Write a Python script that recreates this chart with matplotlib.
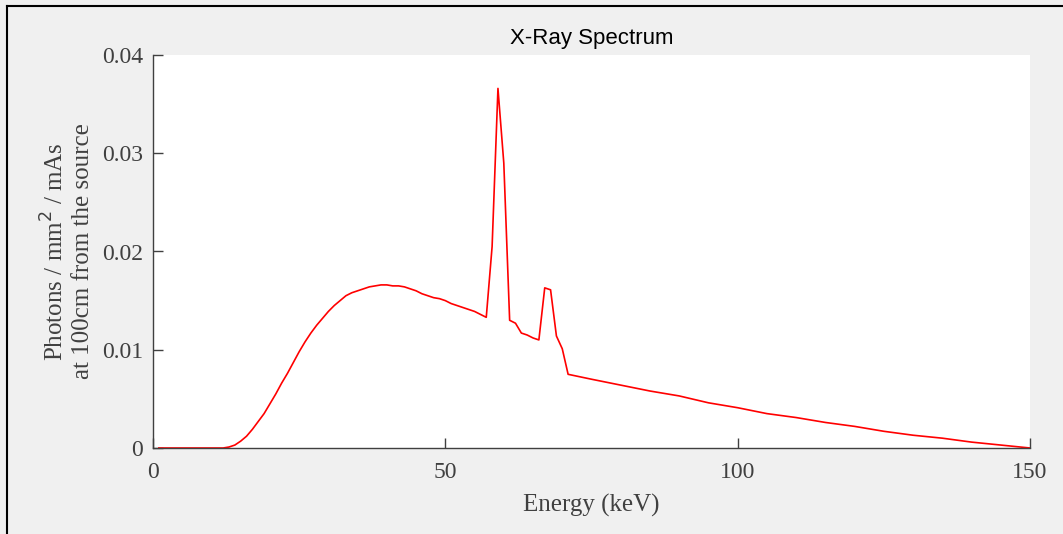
import matplotlib
matplotlib.use("Agg")
import matplotlib.pyplot as plt
from matplotlib.lines import Line2D

# spectrum (keV, photons / mm^2 / mAs)
energy_low = [1, 12]
flux_low = [0.0, 0.0]

energy_mid = list(range(13, 72))
flux_mid = [0.0001, 0.0003, 0.0007, 0.0012, 0.0019, 0.0027, 0.0035, 0.0045,
            0.0055, 0.0066, 0.0076, 0.0087, 0.0098, 0.0108, 0.0117, 0.0125,
            0.0132, 0.0139, 0.0145, 0.0150, 0.0155, 0.0158, 0.0160, 0.0162,
            0.0164, 0.0165, 0.0166, 0.0166, 0.0165, 0.0165, 0.0164, 0.0162,
            0.0160, 0.0157, 0.0155, 0.0153, 0.0152, 0.0150, 0.0147, 0.0145,
            0.0143, 0.0141, 0.0139, 0.0136, 0.0133, 0.0205, 0.0366, 0.0290,
            0.0130, 0.0127, 0.0117, 0.0115, 0.0112, 0.0110, 0.0163, 0.0161,
            0.0114, 0.0101, 0.0075]

energy_tail = [75, 80, 85, 90, 95, 100, 105, 110, 115, 120, 125, 130, 135,
               140, 145, 150]
flux_tail = [0.0070, 0.0064, 0.0058, 0.0053, 0.0046, 0.0041, 0.0035, 0.0031,
             0.0026, 0.0022, 0.0017, 0.0013, 0.0010, 0.0006, 0.0003, 0.0]

energy = energy_low + energy_mid + energy_tail
flux = flux_low + flux_mid + flux_tail

xticks = [0, 50, 100, 150]
yticks = [0, 0.01, 0.02, 0.03, 0.04]

grey = "#404040"
serif = ["Liberation Serif", "DejaVu Serif"]

fig = plt.figure(figsize=(10.63, 5.34), dpi=100, facecolor="#f0f0f0")
ax = fig.add_axes([153 / 1063, 86 / 534, 877 / 1063, 393 / 534])

ax.plot(energy, flux, color="red", linewidth=1.2)

ax.set_xlim(0, 150)
ax.set_ylim(0, 0.04)
ax.set_xticks(xticks)
ax.set_yticks(yticks)
ax.set_xticklabels(["%g" % t for t in xticks], fontfamily=serif, fontsize=17, color=grey)
ax.set_yticklabels(["%g" % t for t in yticks], fontfamily=serif, fontsize=17, color=grey)
ax.tick_params(direction="in", length=7, width=1, color=grey)
ax.tick_params(axis="x", pad=10)
ax.tick_params(axis="y", pad=7)

for side in ["top", "right"]:
    ax.spines[side].set_visible(False)
for side in ["left", "bottom"]:
    ax.spines[side].set_color(grey)
    ax.spines[side].set_linewidth(1)

ax.set_xlabel("Energy (keV)", fontfamily=serif, fontsize=18, color=grey, labelpad=8)
ax.set_ylabel("Photons / mm$^2$ / mAs\nat 100cm from the source",
              fontfamily=serif, fontsize=18, color=grey, labelpad=6)
ax.set_title("X-Ray Spectrum", fontfamily=["Liberation Sans", "DejaVu Sans"],
             fontsize=16, color="black", pad=8)

# border of the original window (only top and left are in the crop)
fig.add_artist(Line2D([7 / 1063, 1], [1 - 6 / 534, 1 - 6 / 534],
                      transform=fig.transFigure, color="black", linewidth=1.5))
fig.add_artist(Line2D([7 / 1063, 7 / 1063], [0, 1 - 6 / 534],
                      transform=fig.transFigure, color="black", linewidth=1.5))

fig.savefig("out.png", facecolor=fig.get_facecolor())
